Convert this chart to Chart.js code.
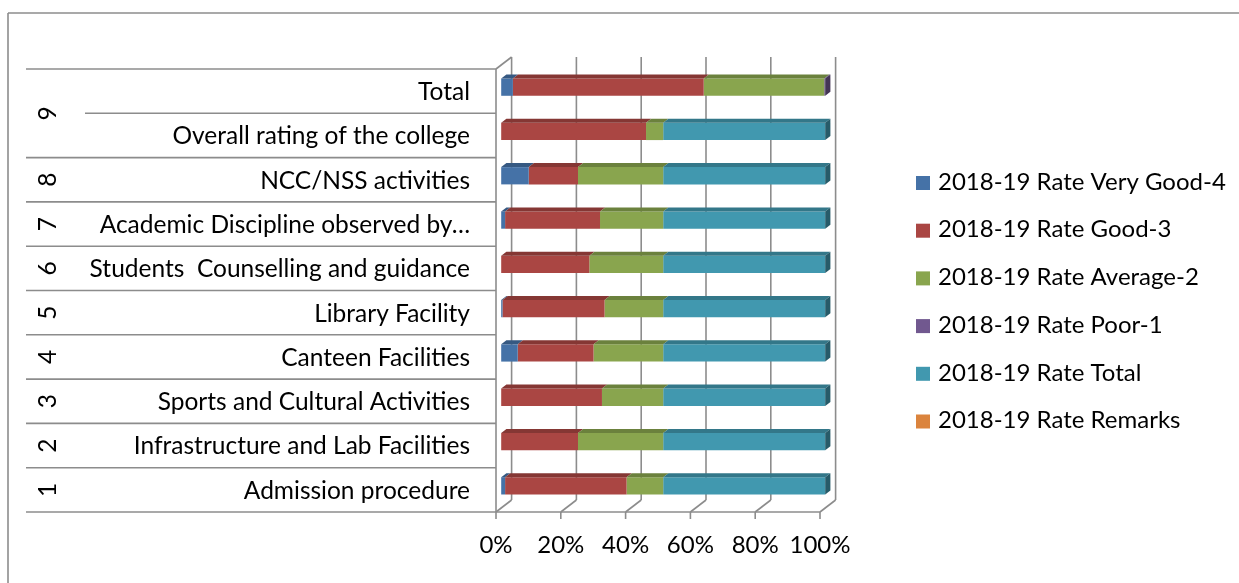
<!DOCTYPE html>
<html>
<head>
<meta charset="utf-8">
<script src="https://cdn.jsdelivr.net/npm/chart.js@4.4.0/dist/chart.umd.min.js"></script>
<style>
body { margin: 0; background: #fff; }
</style>
</head>
<body>
<canvas id="ratingChart" width="1239" height="583"></canvas>
<script>
// rows from bottom (1) to top (Total), as in the sheet
var groups = ["1", "2", "3", "4", "5", "6", "7", "8", "9", "9"];
var categories = ["Admission procedure", "Infrastructure and Lab Facilities", "Sports and Cultural Activities",
    "Canteen Facilities", "Library Facility", "Students  Counselling and guidance",
    "Academic Discipline observed by\u2026", "NCC/NSS activities", "Overall rating of the college", "Total"];
var veryGood = [1.2, 0, 0, 5.1, 0.4, 0, 1.2, 8.5, 0, 3.6];
var good = [37.5, 23.7, 31.1, 23.4, 31.5, 27.2, 29.3, 15.2, 44.7, 58.9];
var average = [11.3, 26.3, 18.9, 21.5, 18.1, 22.8, 19.5, 26.3, 5.3, 37.2];
var poor = [0, 0, 0, 0, 0, 0, 0, 0, 0, 0.3];
var total = [50, 50, 50, 50, 50, 50, 50, 50, 50, 0];
var remarks = [0, 0, 0, 0, 0, 0, 0, 0, 0, 0];
var seriesNames = ["2018-19 Rate Very Good-4", "2018-19 Rate Good-3", "2018-19 Rate Average-2",
    "2018-19 Rate Poor-1", "2018-19 Rate Total", "2018-19 Rate Remarks"];
var barColors = ["#4572A7", "#AA4643", "#89A54E", "#71588F", "#4198AF", "#DB843D"];
var xTicks = [0, 20, 40, 60, 80, 100];

var FONT = "24.5px Lato";
var lineColor = "#8C8C8C";
// depth of the 3d box; bars sit in the middle third
var DX = 15.6, DY = -12;

var allSeries = [veryGood, good, average, poor, total, remarks];
var rowSums = categories.map(function(c, i) {
    return allSeries.reduce(function(s, arr) { return s + arr[i]; }, 0);
});
var datasets = allSeries.map(function(arr, k) {
    return {
        label: seriesNames[k],
        data: arr.map(function(v, i) { return rowSums[i] ? v / rowSums[i] * 100 : 0; }),
        backgroundColor: barColors[k],
        borderWidth: 0,
        clip: false
    };
});

function shade(hex, f) {
    var n = parseInt(hex.slice(1), 16);
    var r = Math.round(((n >> 16) & 255) * f), g = Math.round(((n >> 8) & 255) * f), b = Math.round((n & 255) * f);
    return "rgb(" + r + "," + g + "," + b + ")";
}

function line(ctx, x1, y1, x2, y2) {
    ctx.beginPath();
    ctx.moveTo(x1, y1);
    ctx.lineTo(x2, y2);
    ctx.stroke();
}

var excel3d = {
    id: "excel3d",
    beforeDatasetsDraw: function(chart) {
        var ctx = chart.ctx, area = chart.chartArea, xs = chart.scales.x, ys = chart.scales.y;
        var rowH = (area.bottom - area.top) / categories.length;
        ctx.save();
        ctx.strokeStyle = lineColor;
        ctx.lineWidth = 1.6;
        // frame
        line(ctx, 8, 13, 1239, 13);
        line(ctx, 8, 13, 8, 583);
        // back wall grid, floor and ticks
        xTicks.forEach(function(v) {
            var px = xs.getPixelForValue(v);
            line(ctx, px + DX, area.top + DY, px + DX, area.bottom + DY);
            line(ctx, px, area.bottom, px + DX, area.bottom + DY);
            line(ctx, px, area.bottom, px, area.bottom + 7);
        });
        line(ctx, area.left, area.bottom, area.right, area.bottom);
        line(ctx, area.left, area.top, area.left, area.bottom);
        line(ctx, area.left, area.top, area.left + DX, area.top + DY);
        // category table
        for (var i = 0; i <= categories.length; i++) {
            var by = area.bottom - i * rowH;
            var startX = (i > 0 && i < categories.length && groups[i] === groups[i - 1]) ? 85 : 26;
            line(ctx, startX, by, area.left, by);
        }
        ctx.fillStyle = "#000";
        ctx.font = FONT;
        ctx.textAlign = "right";
        ctx.textBaseline = "middle";
        categories.forEach(function(c, i) {
            ctx.fillText(c, 470, ys.getPixelForValue(i) + 1);
        });
        var seen = {};
        groups.forEach(function(g) {
            if (seen[g]) return;
            seen[g] = true;
            var idx = [];
            groups.forEach(function(h, j) { if (h === g) idx.push(ys.getPixelForValue(j)); });
            var cy = idx.reduce(function(a, b) { return a + b; }, 0) / idx.length;
            ctx.save();
            ctx.translate(48, cy);
            ctx.rotate(-Math.PI / 2);
            ctx.textAlign = "center";
            ctx.fillText(g, 0, 0);
            ctx.restore();
        });
        ctx.restore();
    },
    beforeDatasetDraw: function(chart) {
        chart.ctx.save();
        chart.ctx.translate(DX / 3, DY / 3);
    },
    afterDatasetDraw: function(chart) {
        chart.ctx.restore();
    },
    afterDatasetsDraw: function(chart) {
        var ctx = chart.ctx, xs = chart.scales.x;
        var full = xs.getPixelForValue(100);
        var bx = DX / 3, by = DY / 3;
        ctx.save();
        ctx.translate(bx, by);
        chart.data.datasets.forEach(function(ds, k) {
            var meta = chart.getDatasetMeta(k);
            meta.data.forEach(function(el) {
                var p = el.getProps(["x", "y", "base", "height"], true);
                var x0 = Math.min(p.x, p.base), x1 = Math.max(p.x, p.base);
                if (x1 - x0 < 0.1) return;
                var yT = p.y - p.height / 2, yB = p.y + p.height / 2;
                ctx.fillStyle = shade(ds.backgroundColor, 0.78);
                ctx.beginPath();
                ctx.moveTo(x0, yT);
                ctx.lineTo(x1, yT);
                ctx.lineTo(x1 + bx, yT + by);
                ctx.lineTo(x0 + bx, yT + by);
                ctx.closePath();
                ctx.fill();
                if (x1 >= full - 0.5) {
                    ctx.fillStyle = shade(ds.backgroundColor, 0.6);
                    ctx.beginPath();
                    ctx.moveTo(x1, yT);
                    ctx.lineTo(x1 + bx, yT + by);
                    ctx.lineTo(x1 + bx, yB + by);
                    ctx.lineTo(x1, yB);
                    ctx.closePath();
                    ctx.fill();
                }
            });
        });
        ctx.restore();
    },
    afterDraw: function(chart) {
        var ctx = chart.ctx;
        ctx.save();
        ctx.font = "24px Lato";
        ctx.textAlign = "left";
        ctx.textBaseline = "middle";
        chart.data.datasets.forEach(function(ds, k) {
            var cy = 182 + k * 47.7;
            ctx.fillStyle = ds.backgroundColor;
            ctx.fillRect(916, cy - 6, 14, 14);
            ctx.fillStyle = "#000";
            ctx.fillText(ds.label, 938, cy);
        });
        ctx.restore();
    }
};

new Chart("ratingChart", {
    type: "bar",
    data: {
        labels: categories,
        datasets: datasets
    },
    options: {
        indexAxis: "y",
        responsive: false,
        animation: false,
        layout: {
            padding: { left: 496, right: 419, top: 69, bottom: 0 }
        },
        datasets: {
            bar: { categoryPercentage: 1, barPercentage: 0.39 }
        },
        scales: {
            x: {
                stacked: true,
                min: 0,
                max: 100,
                grid: { display: false, drawTicks: false },
                border: { display: false },
                ticks: {
                    stepSize: 20,
                    padding: 19,
                    maxRotation: 0,
                    minRotation: 0,
                    autoSkip: false,
                    color: "#000",
                    font: { family: "Lato", size: 24 },
                    callback: function(v) { return v + "%"; }
                },
                afterFit: function(scale) { scale.height = 71; }
            },
            y: {
                stacked: true,
                reverse: true,
                display: false
            }
        },
        plugins: {
            legend: { display: false },
            tooltip: { enabled: false }
        }
    },
    plugins: [excel3d]
});
</script>
</body>
</html>
